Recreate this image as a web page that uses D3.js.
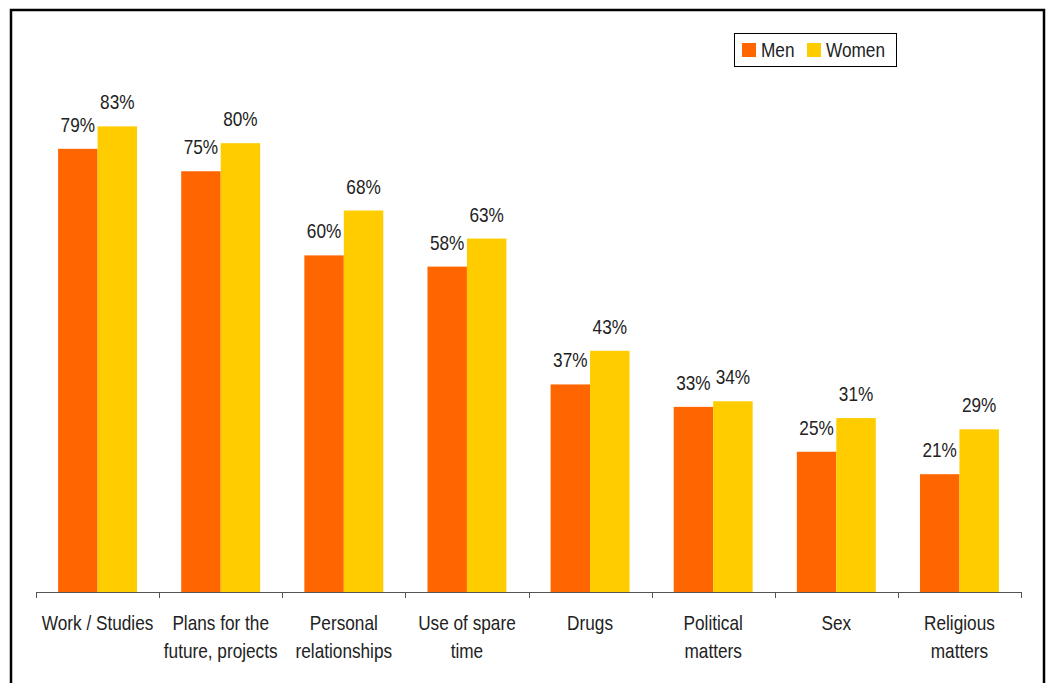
<!DOCTYPE html>
<html>
<head>
<meta charset="utf-8">
<script src="https://cdn.jsdelivr.net/npm/d3@7"></script>
<style>
  html, body { margin: 0; padding: 0; background: #fff; }
  svg { display: block; }
  text { font-family: "Liberation Sans", Arial, sans-serif; fill: #222; }
</style>
</head>
<body>
<svg id="chart" width="1049" height="683"></svg>
<script>
// Topics discussed, by gender (%)
const categories = [
  ["Work / Studies"],
  ["Plans for the", "future, projects"],
  ["Personal", "relationships"],
  ["Use of spare", "time"],
  ["Drugs"],
  ["Political", "matters"],
  ["Sex"],
  ["Religious", "matters"]
];
const seriesNames = ["Men", "Women"];
const men   = [79, 75, 60, 58, 37, 33, 25, 21];
const women = [83, 80, 68, 63, 43, 34, 31, 29];
const colors = ["#FF6600", "#FFCC00"];

// condensed look: regular sans squeezed horizontally
const NARROW = 0.82;
const FS = 21;

const svg = d3.select("#chart");

// outer frame
svg.append("rect")
  .attr("x", 11).attr("y", 10)
  .attr("width", 1033).attr("height", 690)
  .attr("fill", "none").attr("stroke", "#000").attr("stroke-width", 2.5);

const baseY = 592;
const x0 = d3.scaleBand()
  .domain(d3.range(categories.length))
  .range([36, 1021])
  .padding(0);
const x1 = d3.scaleBand()
  .domain(seriesNames)
  .range([0, x0.bandwidth()])
  .paddingInner(0)
  .paddingOuter(0.56);
const y = d3.scaleLinear().domain([0, 100]).range([baseY, baseY - 561]);

const data = categories.map((c, i) => ({
  idx: i,
  values: [{ s: "Men", v: men[i] }, { s: "Women", v: women[i] }]
}));

const groups = svg.append("g").selectAll("g")
  .data(data).join("g")
  .attr("transform", d => `translate(${x0(d.idx)},0)`);

groups.selectAll("rect")
  .data(d => d.values).join("rect")
  .attr("x", d => x1(d.s))
  .attr("y", d => y(d.v))
  .attr("width", x1.bandwidth())
  .attr("height", d => baseY - y(d.v))
  .attr("fill", d => colors[seriesNames.indexOf(d.s)]);

groups.selectAll("text.val")
  .data(d => d.values).join("text")
  .attr("class", "val")
  .attr("transform", d => `translate(${x1(d.s) + x1.bandwidth() / 2},${y(d.v) - 17}) scale(${NARROW},1)`)
  .attr("text-anchor", "middle")
  .attr("font-size", FS)
  .text(d => d.v + "%");

// category axis with ticks at band boundaries
const axisG = svg.append("g");
axisG.append("line")
  .attr("x1", 36).attr("x2", 1021)
  .attr("y1", baseY + 0.5).attr("y2", baseY + 0.5)
  .attr("stroke", "#555").attr("stroke-width", 1);
const bounds = d3.range(categories.length + 1).map(i => i < categories.length ? x0(i) : x0.range()[1]);
axisG.selectAll("line.tick")
  .data(bounds).join("line")
  .attr("class", "tick")
  .attr("x1", d => Math.round(d) + 0.5).attr("x2", d => Math.round(d) + 0.5)
  .attr("y1", baseY).attr("y2", baseY + 6)
  .attr("stroke", "#555");

const labels = svg.append("g").selectAll("text")
  .data(categories).join("text")
  .attr("text-anchor", "middle")
  .attr("font-size", FS)
  .attr("transform", (d, i) => `translate(${x0(i) + x0.bandwidth() / 2},630) scale(${NARROW},1)`);
labels.selectAll("tspan")
  .data(d => d).join("tspan")
  .attr("x", 0)
  .attr("dy", (d, i) => i === 0 ? 0 : 28)
  .text(d => d);

// legend
const legend = svg.append("g");
legend.append("rect")
  .attr("x", 734.5).attr("y", 33.5).attr("width", 162).attr("height", 33)
  .attr("fill", "#fff").attr("stroke", "#000").attr("stroke-width", 1);
const legendX = [742, 807];
seriesNames.forEach((s, i) => {
  legend.append("rect")
    .attr("x", legendX[i]).attr("y", 43).attr("width", 14).attr("height", 14)
    .attr("fill", colors[i]);
  legend.append("text")
    .attr("transform", `translate(${legendX[i] + 19},57) scale(${NARROW},1)`)
    .attr("font-size", FS)
    .text(s);
});
</script>
</body>
</html>
